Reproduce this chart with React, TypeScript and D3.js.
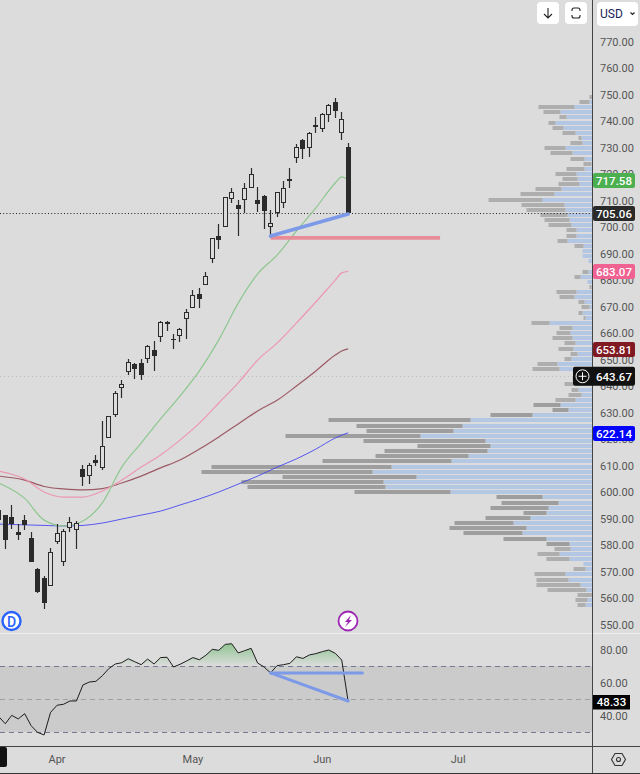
import * as React from 'react';
import * as d3 from 'd3';

// daily candles, the first one is cut off by the left edge
const opens = [593.0, 591.1, 590.4, 584.7, 589.2, 582.5, 570.8, 567.4, 564.4, 581.0, 573.4, 586.2, 585.5, 608.5, 605.8, 611.9, 608.9, 620.2, 628.9, 639.1, 645.1, 648.1, 648.5, 650.0, 653.4, 658.3, 663.2, 657.5, 658.7, 665.1, 669.2, 674.5, 677.9, 687.7, 696.4, 699.8, 710.4, 708.1, 710.0, 714.5, 710.0, 711.5, 699.8, 705.1, 708.9, 717.9, 725.8, 732.6, 729.6, 737.5, 736.8, 742.1, 747.0, 735.3, 730.0];
const highs = [593.0, 591.1, 594.9, 587.7, 591.1, 584.7, 571.2, 568.2, 578.7, 587.7, 585.8, 590.4, 588.9, 610.0, 610.8, 613.8, 626.6, 628.5, 637.9, 642.1, 650.0, 648.5, 650.0, 655.3, 656.8, 664.3, 664.3, 659.4, 661.7, 668.9, 676.0, 676.8, 682.8, 695.7, 700.9, 711.1, 714.5, 710.0, 716.4, 722.1, 714.9, 711.9, 706.2, 713.0, 717.2, 722.1, 731.1, 733.0, 735.7, 741.3, 742.8, 746.2, 748.5, 743.2, 731.5];
const lows = [589.2, 578.3, 585.8, 581.7, 585.5, 573.4, 561.7, 555.7, 564.4, 580.2, 571.9, 584.7, 578.3, 602.1, 602.8, 609.6, 608.1, 620.2, 628.1, 635.3, 643.9, 642.4, 642.0, 648.5, 645.4, 656.4, 660.6, 653.8, 656.4, 657.5, 669.2, 669.2, 677.9, 686.2, 691.5, 699.8, 708.9, 696.4, 705.1, 714.5, 705.5, 699.1, 695.7, 703.6, 707.0, 714.5, 724.0, 725.5, 726.2, 735.3, 735.7, 739.4, 741.0, 732.6, 705.06];
const closes = [589.2, 581.7, 587.7, 583.6, 587.4, 573.4, 562.1, 557.9, 577.2, 584.3, 585.1, 588.5, 588.1, 605.5, 610.0, 610.8, 617.2, 628.5, 637.2, 640.6, 648.9, 646.2, 643.9, 654.9, 651.1, 663.9, 663.9, 657.5, 661.3, 667.7, 674.2, 672.6, 681.3, 695.7, 694.9, 711.1, 713.0, 706.6, 714.5, 719.8, 708.5, 705.8, 701.3, 713.0, 714.5, 717.2, 730.0, 729.2, 735.3, 738.3, 742.5, 745.8, 743.6, 740.6, 705.06];

// moving averages read at these candles
const maDays = [0, 4, 7, 10, 13, 16, 19, 22, 25, 28, 31, 34, 37, 40, 43, 46, 49, 52, 53, 54];
const maGreen = [603.2, 597.4, 589.2, 587.0, 588.9, 595.7, 609.2, 618.3, 627.4, 636.0, 645.5, 657.2, 671.1, 682.1, 689.2, 698.3, 707.0, 716.4, 718.7, 717.58];
const maPink = [607.7, 604.7, 599.8, 597.9, 597.9, 600.2, 604.3, 609.2, 613.8, 619.4, 625.8, 633.4, 641.0, 649.6, 656.0, 663.6, 671.5, 679.8, 682.5, 683.07];
const maRed = [605.8, 604.3, 601.9, 601.0, 600.6, 601.1, 603.2, 605.8, 608.9, 611.9, 616.0, 620.6, 625.5, 630.4, 634.4, 639.8, 645.5, 651.5, 653.0, 653.81];
const maBlue = [587.7, 587.4, 587.2, 587.0, 587.2, 588.1, 589.6, 591.1, 592.6, 594.9, 597.2, 599.8, 602.8, 605.8, 609.2, 612.3, 616.0, 620.2, 621.3, 622.14];

// oscillator, one value per candle
const rsi = [39.3, 35.0, 40.1, 37.9, 41.1, 33.8, 29.8, 28.2, 41.9, 46.2, 46.8, 48.8, 48.8, 58.5, 60.3, 60.7, 64.1, 68.4, 71.2, 72.0, 74.4, 72.6, 70.8, 74.2, 71.2, 75.1, 75.3, 69.4, 71.0, 73.0, 75.1, 73.8, 76.5, 80.1, 79.5, 83.1, 83.5, 77.9, 79.3, 80.7, 71.8, 69.4, 65.8, 70.2, 70.8, 71.6, 75.6, 74.6, 76.7, 77.5, 78.7, 79.7, 77.7, 73.6, 48.33];

// volume profile rows, top to bottom
const profileTop = 748.9;
const profileStep = 1.9377;
const profileDown = [3, 10, 36, 17, 7, 7, 11, 13, 3, 12, 21, 22, 14, 8, 18, 21, 15, 21, 26, 34, 54, 43, 39, 27, 25, 23, 10, 10, 10, 9, 0, 0, 0, 0, 6, 6, 0, 2, 20, 15, 6, 8, 4, 2, 18, 13, 14, 20, 11, 15, 7, 7, 20, 27, 6, 6, 9, 7, 13, 20, 27, 16, 42, 142, 106, 87, 135, 122, 73, 103, 93, 129, 180, 171, 134, 142, 138, 96, 46, 57, 58, 23, 45, 59, 77, 59, 43, 23, 16, 22, 23, 0, 12, 31, 32, 44, 39, 15, 12, 8];
const profileUp = [0, 3, 18, 32, 26, 37, 29, 17, 11, 10, 27, 20, 8, 1, 8, 16, 15, 13, 31, 38, 50, 28, 27, 25, 23, 21, 16, 16, 25, 9, 10, 10, 4, 0, 4, 12, 5, 1, 16, 18, 8, 3, 10, 7, 43, 20, 22, 20, 17, 19, 15, 21, 35, 33, 12, 14, 19, 14, 11, 17, 32, 24, 60, 122, 130, 139, 172, 107, 102, 105, 124, 141, 201, 220, 176, 209, 207, 142, 50, 34, 44, 46, 62, 79, 66, 70, 46, 23, 22, 33, 23, 9, 7, 27, 24, 12, 6, 0, 5, 7];
const valueAreaHigh = 634;
const valueAreaLow = 579;

const priceTicks = [770, 760, 750, 740, 730, 720, 710, 700, 690, 680, 670, 660, 650, 640, 630, 620, 610, 600, 590, 580, 570, 560, 550];
const rsiTicks = [80, 60, 40];
const rsiLevels = [70, 50, 30];
const months = [
	{ label: 'Apr', day: 9 },
	{ label: 'May', day: 30 },
	{ label: 'Jun', day: 50 },
	{ label: 'Jul', day: 71 },
];
const priceLabels = [
	{ value: 717.58, color: '#4caf50' },
	{ value: 705.06, color: '#2a2a2a' },
	{ value: 683.07, color: '#f06292' },
	{ value: 653.81, color: '#801922' },
	{ value: 622.14, color: '#0000ff' },
];
const crosshairPrice = 643.67;

// drawn trend lines, as [candle, value]
const priceTrend = [[42, 696.4], [54, 704.7]];
const supportLine = [[42, 695.7], [68.2, 695.7]];
const rsiTrend = [[42, 65.8], [54, 48.8]];
const rsiSupport = [[42, 65.8], [56.2, 65.8]];

const WIDTH = 640;
const HEIGHT = 774;
const AXIS_X = 592.5;
const BG = '#dcdcdc';
const CANDLE = '#2b2b2b';
const FONT = 'Roboto, sans-serif';

const x = d3.scaleLinear().domain([0, 54]).range([-1.2, 348.2]);
const y = d3.scaleLinear().domain([770, 550]).range([41, 624]);
const yRsi = d3.scaleLinear().domain([80, 40]).range([649.5, 715.5]);
const barLen = d3.scaleLinear().domain([0, 391]).range([0, 391]);

const px = (v: number) => Math.round(v);

const Candle = ({ i }: { i: number }) => {
	const cx = Math.floor(x(i)) + 0.5;
	const up = closes[i] > opens[i];
	const top = px(y(Math.max(opens[i], closes[i])));
	const bottom = px(y(Math.min(opens[i], closes[i])));
	return (
		<g>
			<line x1={cx} x2={cx} y1={px(y(highs[i]))} y2={px(y(lows[i]))} stroke={CANDLE} strokeWidth={1.2} />
			{up ? (
				<rect x={cx - 2} y={top + 0.5} width={4} height={Math.max(bottom - top - 1, 1)} fill={BG} stroke={CANDLE} strokeWidth={1} />
			) : (
				<rect x={cx - 2.5} y={top} width={5} height={Math.max(bottom - top, 1)} fill={CANDLE} />
			)}
		</g>
	);
};

const PriceLabel = ({ value, color }: { value: number; color: string }) => (
	<g>
		<rect x={593} y={px(y(value)) - 7} width={42} height={15} rx={2} fill={color} />
		<text x={614} y={px(y(value)) + 1} textAnchor='middle' dominantBaseline='central' fill='#fff' fontSize={11.5} fontWeight={500}>
			{value.toFixed(2)}
		</text>
	</g>
);

export default function App() {
	const maLine = d3
		.line<number>()
		.x((_, i) => x(maDays[i]))
		.y(d => y(d))
		.curve(d3.curveMonotoneX);
	const rsiLine = d3
		.line<number>()
		.x((_, i) => x(i))
		.y(d => yRsi(d));
	const rsiArea = d3
		.area<number>()
		.x((_, i) => x(i))
		.y0(yRsi(70))
		.y1(d => yRsi(d));
	const trend = d3
		.line<number[]>()
		.x(d => x(d[0]))
		.y(d => y(d[1]));
	const trendRsi = d3
		.line<number[]>()
		.x(d => x(d[0]))
		.y(d => yRsi(d[1]));

	const crossY = y(crosshairPrice);

	return (
		<svg
			width={WIDTH}
			height={HEIGHT}
			viewBox={`0 0 ${WIDTH} ${HEIGHT}`}
			style={{ position: 'absolute', left: 0, top: 0, display: 'block', fontFamily: FONT }}
		>
			<defs>
				<clipPath id='above70'>
					<rect x={0} y={634} width={AXIS_X} height={yRsi(70) - 634} />
				</clipPath>
				<linearGradient id='rsiFill' gradientUnits='userSpaceOnUse' x1={0} x2={0} y1={yRsi(84)} y2={yRsi(70)}>
					<stop offset='0%' stopColor='#4caf50' stopOpacity={0.55} />
					<stop offset='100%' stopColor='#4caf50' stopOpacity={0} />
				</linearGradient>
			</defs>
			<rect width={WIDTH} height={HEIGHT} fill={BG} />

			{/* volume profile */}
			{profileUp.map((up, i) => {
				const price = profileTop - i * profileStep;
				const inValue = price <= valueAreaHigh && price >= valueAreaLow;
				const rowY = px(y(price) - 2);
				const upLen = barLen(up);
				const downLen = barLen(profileDown[i]);
				return (
					<g key={i}>
						<rect x={AXIS_X - upLen} y={rowY} width={upLen} height={4} fill={inValue ? '#b4c8e4' : '#b3c6e3'} />
						<rect x={AXIS_X - upLen - downLen} y={rowY} width={downLen} height={4} fill={inValue ? '#9e9e9e' : '#aeaeae'} />
					</g>
				);
			})}

			{/* last price and crosshair */}
			<line x1={0} x2={AXIS_X} y1={213.5} y2={213.5} stroke='#222' strokeDasharray='1 2.2' />
			<line x1={0} x2={AXIS_X} y1={px(crossY) + 0.5} y2={px(crossY) + 0.5} stroke='#bdbdbd' strokeDasharray='1 3' />

			{/* moving averages */}
			<path d={maLine(maBlue)} fill='none' stroke='#3f3ff2' strokeOpacity={0.85} strokeWidth={1} />
			<path d={maLine(maRed)} fill='none' stroke='#9c5a64' strokeWidth={1.2} />
			<path d={maLine(maPink)} fill='none' stroke='#ec97b0' strokeWidth={1.2} />
			<path d={maLine(maGreen)} fill='none' stroke='#8ec78f' strokeWidth={1.2} />

			{opens.map((_, i) => (
				<Candle key={i} i={i} />
			))}

			{/* drawings */}
			<path d={trend(supportLine)} fill='none' stroke='#e88d98' strokeWidth={3.6} />
			<path d={trend(priceTrend)} fill='none' stroke='#7c9ae8' strokeWidth={3.6} strokeLinecap='round' />

			{/* markers on the time line */}
			<g>
				<circle cx={11.5} cy={621} r={9} fill='#fff' stroke='#2962ff' strokeWidth={2.4} />
				<text x={11.5} y={621.5} textAnchor='middle' dominantBaseline='central' fill='#2962ff' fontSize={14} fontWeight={500}>
					D
				</text>
				<circle cx={348} cy={621} r={9.5} fill='#fff' stroke='#9c27b0' strokeWidth={1.8} />
				<path d='M351 615 L345 622 L348 622 L345 627 L352 620 L349 620 Z' fill='#9c27b0' />
			</g>

			{/* oscillator pane */}
			<line x1={0} x2={WIDTH} y1={633.5} y2={633.5} stroke='#efefef' />
			<rect x={0} y={yRsi(70)} width={AXIS_X} height={yRsi(30) - yRsi(70)} fill='#cbcbcb' />
			{rsiLevels.map(level => (
				<line
					key={level}
					x1={0}
					x2={AXIS_X}
					y1={px(yRsi(level)) + 0.5}
					y2={px(yRsi(level)) + 0.5}
					stroke={level === 50 ? '#a0a0a0' : '#787890'}
					strokeDasharray='5 4'
				/>
			))}
			<path d={rsiArea(rsi)} fill='url(#rsiFill)' clipPath='url(#above70)' />
			<path d={rsiLine(rsi)} fill='none' stroke='#1c1c1c' strokeWidth={1} />
			<path d={trendRsi(rsiSupport)} fill='none' stroke='#7c9ae8' strokeWidth={3} strokeLinecap='round' />
			<path d={trendRsi(rsiTrend)} fill='none' stroke='#7c9ae8' strokeWidth={3} strokeLinecap='round' />

			{/* axes frame */}
			<line x1={AXIS_X} x2={AXIS_X} y1={0} y2={HEIGHT} stroke='#444' />
			<line x1={0} x2={WIDTH} y1={746.5} y2={746.5} stroke='#444' />
			<line x1={0} x2={WIDTH} y1={773.5} y2={773.5} stroke='#333' />

			{/* price axis */}
			{priceTicks.map(t => (
				<text key={t} x={600} y={y(t) + 1} dominantBaseline='central' fill='#555' fontSize={11}>
					{t.toFixed(2)}
				</text>
			))}
			{priceLabels.map(l => (
				<PriceLabel key={l.value} value={l.value} color={l.color} />
			))}
			<rect x={573} y={crossY - 9} width={62} height={19} rx={2} fill='#111' />
			<circle cx={582.5} cy={crossY + 0.5} r={6.5} fill='none' stroke='#fff' strokeWidth={1} />
			<path d={`M578.5 ${crossY + 0.5} H586.5 M582.5 ${crossY - 3.5} V${crossY + 4.5}`} stroke='#fff' strokeWidth={1} />
			<text x={614} y={crossY + 1} textAnchor='middle' dominantBaseline='central' fill='#fff' fontSize={11.5} fontWeight={500}>
				{crosshairPrice.toFixed(2)}
			</text>

			{/* oscillator axis */}
			{rsiTicks.map(t => (
				<text key={t} x={600} y={yRsi(t) + 0.5} dominantBaseline='central' fill='#555' fontSize={11}>
					{t.toFixed(2)}
				</text>
			))}
			<rect x={593} y={695} width={37} height={14.5} fill='#000' />
			<text x={611.5} y={yRsi(48.33) + 0.5} textAnchor='middle' dominantBaseline='central' fill='#fff' fontSize={11.5} fontWeight={500}>
				{rsi[rsi.length - 1].toFixed(2)}
			</text>

			{/* time axis */}
			<rect x={-3} y={747} width={10} height={20} rx={2} fill='#111' />
			{months.map(m => (
				<text key={m.label} x={x(m.day)} y={759.5} textAnchor='middle' dominantBaseline='central' fill='#555' fontSize={11}>
					{m.label}
				</text>
			))}
			<path
				d='M611.5 759.5 L615 753.5 L622 753.5 L625.5 759.5 L622 765.5 L615 765.5 Z'
				fill='none'
				stroke='#333'
				strokeWidth={1.1}
			/>
			<circle cx={618.5} cy={759.5} r={2} fill='none' stroke='#333' strokeWidth={1.1} />

			{/* top buttons */}
			<rect x={537} y={2} width={22} height={22} rx={4} fill='#fff' />
			<path d='M548 8 V18 M544 14 L548 18 L552 14' fill='none' stroke='#222' strokeWidth={1.1} />
			<rect x={565} y={2} width={22} height={22} rx={4} fill='#fff' />
			<path
				d='M572 11 V10 Q572 8 574 8 H578 Q580 8 580 10 V11 M572 15 V16 Q572 18 574 18 H578 Q580 18 580 16 V15'
				fill='none'
				stroke='#222'
				strokeWidth={1.1}
			/>
			<rect x={597} y={2} width={41} height={24} rx={4} fill='#fff' />
			<text x={600} y={13.5} dominantBaseline='central' fill='#15245c' fontSize={12}>
				USD
			</text>
			<path d='M630.5 12.5 L632.5 14.5 L634.5 12.5' fill='none' stroke='#222' strokeWidth={1.1} />
		</svg>
	);
}
